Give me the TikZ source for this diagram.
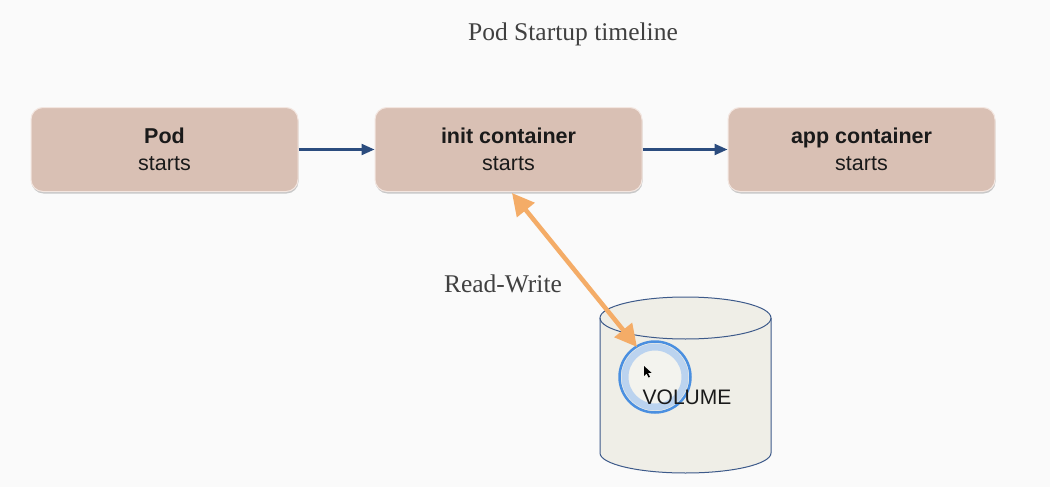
\documentclass[tikz,border=0pt]{standalone}
\usepackage{fontspec}
\setmainfont{Liberation Serif}
\newfontfamily\boxfont{Liberation Sans}
\usetikzlibrary{arrows.meta,shadows}
\definecolor{bgc}{HTML}{FAFAFA}
\definecolor{boxfill}{HTML}{D9C0B4}
\definecolor{boxedge}{HTML}{F3E6E0}
\definecolor{flowc}{HTML}{2B4C7E}
\definecolor{rwc}{HTML}{F4AC67}
\definecolor{cylfill}{HTML}{EFEEE7}
\definecolor{cyledge}{HTML}{3D5A8A}
\definecolor{ringc}{HTML}{4A8FE0}
\definecolor{ringlight}{HTML}{A9C9F0}
\definecolor{textc}{HTML}{1A1A1A}
\tikzset{
  stagebox/.style={rectangle, rounded corners=12pt, fill=boxfill, draw=boxedge, line width=1pt,
    minimum width=267pt, minimum height=84pt, align=center, text=textc,
    font=\boxfont\fontsize{21.5}{27}\selectfont,
    drop shadow={shadow xshift=0.5pt, shadow yshift=-2pt, fill=black!45, opacity=0.45}},
  flow/.style={draw=flowc, line width=2.2pt, -{Triangle[length=13pt,width=11pt]}},
  rw/.style={draw=rwc, line width=4.5pt, {Triangle[length=22pt,width=22pt]}-{Triangle[length=22pt,width=22pt]}},
  serifl/.style={font=\fontsize{25.5}{30}\selectfont, text=black!75},
}
\begin{document}
\begin{tikzpicture}[x=1pt,y=-1pt]
\useasboundingbox (0,0) rectangle (1050,487);
\fill[bgc] (0,0) rectangle (1050,487);

\node[serifl] (title) at (573,34) {Pod Startup timeline};

\node[stagebox] (pod) at (164.5,149.5) {\textbf{Pod}\\starts};
\node[stagebox] (init) at (508.5,149.5) {\textbf{init container}\\starts};
\node[stagebox] (app) at (861.5,149.5) {\textbf{app container}\\starts};

\draw[flow] (pod.east) -- (init.west);
\draw[flow] (init.east) -- (app.west);

% cylinder
\fill[cylfill] (600,318) -- (600,453) arc[start angle=180,end angle=360,x radius=85.5pt,y radius=20pt]
  -- (771,318) arc[start angle=0,end angle=180,x radius=85.5pt,y radius=21pt] -- cycle;
\draw[cyledge, line width=1pt] (600,318) -- (600,453) arc[start angle=180,end angle=360,x radius=85.5pt,y radius=20pt] -- (771,318);
\draw[cyledge, line width=1pt] (685.5,318) ellipse[x radius=85.5pt, y radius=21pt];

% cursor highlight ring
\fill[white, opacity=0.3] (655,377) circle[radius=33pt];
\draw[ringlight, line width=7pt, opacity=0.75] (655,377) circle[radius=30pt];
\draw[ringc, line width=2.5pt] (655,377) circle[radius=35.5pt];
\fill[black] (644,366) -- (644,376) -- (646.5,373.5) -- (648.5,377.5) -- (650,376.8) -- (648,372.8) -- (651.5,372.8) -- cycle;

\node[font=\boxfont\fontsize{21}{25}\selectfont, text=textc] (vol) at (687,397) {VOLUME};

\coordinate (rwtop) at (512,193);
\coordinate (rwbot) at (637,347);
\draw[rw] (rwtop) -- (rwbot);

\node[serifl, anchor=center] (rwlabel) at (503,284) {Read-Write};
\end{tikzpicture}
\end{document}
